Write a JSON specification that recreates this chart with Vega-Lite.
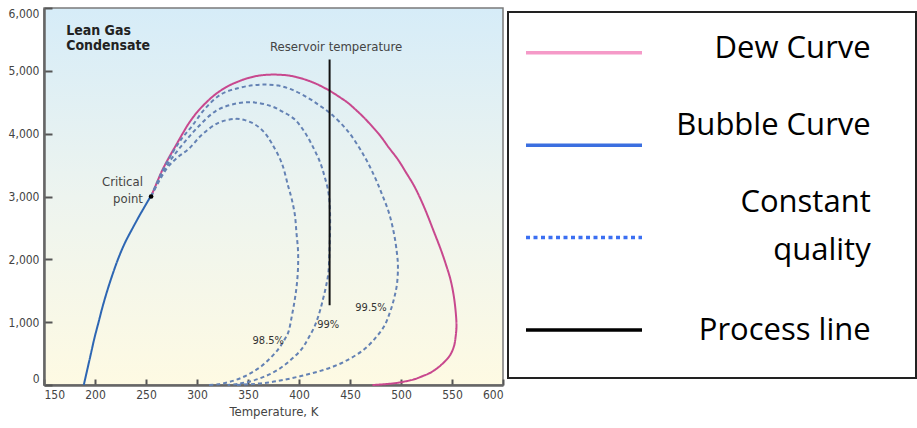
{
  "$schema": "https://vega.github.io/schema/vega-lite/v6.json",
  "width": 459,
  "height": 377,
  "autosize": {"type": "none"},
  "padding": {"left": 44, "top": 8, "right": 414, "bottom": 43},
  "background": "white",
  "view": {
    "fill": {"gradient": "linear", "x1": 0, "y1": 0, "x2": 0, "y2": 1,
      "stops": [{"offset": 0, "color": "#d6ecf8"}, {"offset": 0.5, "color": "#edf4ef"}, {"offset": 1, "color": "#fefae3"}]},
    "stroke": "#7a7a7a",
    "strokeWidth": 1.5
  },
  "config": {
    "font": "DejaVu Sans Condensed, sans-serif"
  },
  "datasets": {
    "curves": [
      {"s":"Dew Curve","q":"dew","i":0,"T":255,"P":3000},
      {"s":"Dew Curve","q":"dew","i":1,"T":260.5,"P":3215},
      {"s":"Dew Curve","q":"dew","i":2,"T":266,"P":3420},
      {"s":"Dew Curve","q":"dew","i":3,"T":272.5,"P":3620},
      {"s":"Dew Curve","q":"dew","i":4,"T":279,"P":3805},
      {"s":"Dew Curve","q":"dew","i":5,"T":285.5,"P":3990},
      {"s":"Dew Curve","q":"dew","i":6,"T":292,"P":4165},
      {"s":"Dew Curve","q":"dew","i":7,"T":300,"P":4340},
      {"s":"Dew Curve","q":"dew","i":8,"T":308,"P":4480},
      {"s":"Dew Curve","q":"dew","i":9,"T":316,"P":4600},
      {"s":"Dew Curve","q":"dew","i":10,"T":324,"P":4695},
      {"s":"Dew Curve","q":"dew","i":11,"T":332,"P":4770},
      {"s":"Dew Curve","q":"dew","i":12,"T":341,"P":4833},
      {"s":"Dew Curve","q":"dew","i":13,"T":349,"P":4880},
      {"s":"Dew Curve","q":"dew","i":14,"T":357,"P":4913},
      {"s":"Dew Curve","q":"dew","i":15,"T":365,"P":4932},
      {"s":"Dew Curve","q":"dew","i":16,"T":373,"P":4940},
      {"s":"Dew Curve","q":"dew","i":17,"T":382,"P":4937},
      {"s":"Dew Curve","q":"dew","i":18,"T":390,"P":4925},
      {"s":"Dew Curve","q":"dew","i":19,"T":399,"P":4895},
      {"s":"Dew Curve","q":"dew","i":20,"T":408,"P":4850},
      {"s":"Dew Curve","q":"dew","i":21,"T":416,"P":4800},
      {"s":"Dew Curve","q":"dew","i":22,"T":423,"P":4745},
      {"s":"Dew Curve","q":"dew","i":23,"T":431,"P":4674},
      {"s":"Dew Curve","q":"dew","i":24,"T":440,"P":4580},
      {"s":"Dew Curve","q":"dew","i":25,"T":448,"P":4490},
      {"s":"Dew Curve","q":"dew","i":26,"T":456,"P":4375},
      {"s":"Dew Curve","q":"dew","i":27,"T":464,"P":4251},
      {"s":"Dew Curve","q":"dew","i":28,"T":472,"P":4110},
      {"s":"Dew Curve","q":"dew","i":29,"T":480,"P":3959},
      {"s":"Dew Curve","q":"dew","i":30,"T":488,"P":3780},
      {"s":"Dew Curve","q":"dew","i":31,"T":497,"P":3588},
      {"s":"Dew Curve","q":"dew","i":32,"T":505,"P":3380},
      {"s":"Dew Curve","q":"dew","i":33,"T":513,"P":3164},
      {"s":"Dew Curve","q":"dew","i":34,"T":520,"P":2930},
      {"s":"Dew Curve","q":"dew","i":35,"T":526,"P":2700},
      {"s":"Dew Curve","q":"dew","i":36,"T":532,"P":2450},
      {"s":"Dew Curve","q":"dew","i":37,"T":539,"P":2157},
      {"s":"Dew Curve","q":"dew","i":38,"T":544,"P":1920},
      {"s":"Dew Curve","q":"dew","i":39,"T":548.5,"P":1680},
      {"s":"Dew Curve","q":"dew","i":40,"T":551.5,"P":1440},
      {"s":"Dew Curve","q":"dew","i":41,"T":553.4,"P":1203},
      {"s":"Dew Curve","q":"dew","i":42,"T":554.4,"P":938},
      {"s":"Dew Curve","q":"dew","i":43,"T":553.5,"P":760},
      {"s":"Dew Curve","q":"dew","i":44,"T":552,"P":620},
      {"s":"Dew Curve","q":"dew","i":45,"T":549,"P":500},
      {"s":"Dew Curve","q":"dew","i":46,"T":545,"P":409},
      {"s":"Dew Curve","q":"dew","i":47,"T":538,"P":300},
      {"s":"Dew Curve","q":"dew","i":48,"T":529,"P":197},
      {"s":"Dew Curve","q":"dew","i":49,"T":521,"P":140},
      {"s":"Dew Curve","q":"dew","i":50,"T":513,"P":91},
      {"s":"Dew Curve","q":"dew","i":51,"T":505,"P":60},
      {"s":"Dew Curve","q":"dew","i":52,"T":498,"P":38},
      {"s":"Dew Curve","q":"dew","i":53,"T":485,"P":14},
      {"s":"Dew Curve","q":"dew","i":54,"T":472,"P":0},
      {"s":"Bubble Curve","q":"bub","i":0,"T":189,"P":0},
      {"s":"Bubble Curve","q":"bub","i":1,"T":192.5,"P":250},
      {"s":"Bubble Curve","q":"bub","i":2,"T":196,"P":500},
      {"s":"Bubble Curve","q":"bub","i":3,"T":199.5,"P":750},
      {"s":"Bubble Curve","q":"bub","i":4,"T":203.5,"P":1000},
      {"s":"Bubble Curve","q":"bub","i":5,"T":207.5,"P":1250},
      {"s":"Bubble Curve","q":"bub","i":6,"T":212,"P":1500},
      {"s":"Bubble Curve","q":"bub","i":7,"T":217,"P":1750},
      {"s":"Bubble Curve","q":"bub","i":8,"T":222.5,"P":2000},
      {"s":"Bubble Curve","q":"bub","i":9,"T":229,"P":2250},
      {"s":"Bubble Curve","q":"bub","i":10,"T":237,"P":2500},
      {"s":"Bubble Curve","q":"bub","i":11,"T":245.5,"P":2750},
      {"s":"Bubble Curve","q":"bub","i":12,"T":254.5,"P":3000},
      {"s":"Constant quality","q":"99.5","i":0,"T":255,"P":3000},
      {"s":"Constant quality","q":"99.5","i":1,"T":265,"P":3370},
      {"s":"Constant quality","q":"99.5","i":2,"T":275,"P":3670},
      {"s":"Constant quality","q":"99.5","i":3,"T":285,"P":3920},
      {"s":"Constant quality","q":"99.5","i":4,"T":295,"P":4118},
      {"s":"Constant quality","q":"99.5","i":5,"T":308,"P":4400},
      {"s":"Constant quality","q":"99.5","i":6,"T":324,"P":4630},
      {"s":"Constant quality","q":"99.5","i":7,"T":341,"P":4728},
      {"s":"Constant quality","q":"99.5","i":8,"T":355,"P":4770},
      {"s":"Constant quality","q":"99.5","i":9,"T":367,"P":4781},
      {"s":"Constant quality","q":"99.5","i":10,"T":380,"P":4765},
      {"s":"Constant quality","q":"99.5","i":11,"T":393,"P":4701},
      {"s":"Constant quality","q":"99.5","i":12,"T":409,"P":4569},
      {"s":"Constant quality","q":"99.5","i":13,"T":420,"P":4450},
      {"s":"Constant quality","q":"99.5","i":14,"T":431,"P":4320},
      {"s":"Constant quality","q":"99.5","i":15,"T":448,"P":4038},
      {"s":"Constant quality","q":"99.5","i":16,"T":464,"P":3641},
      {"s":"Constant quality","q":"99.5","i":17,"T":474,"P":3320},
      {"s":"Constant quality","q":"99.5","i":18,"T":481,"P":3050},
      {"s":"Constant quality","q":"99.5","i":19,"T":488,"P":2750},
      {"s":"Constant quality","q":"99.5","i":20,"T":493,"P":2420},
      {"s":"Constant quality","q":"99.5","i":21,"T":496,"P":2100},
      {"s":"Constant quality","q":"99.5","i":22,"T":497,"P":1890},
      {"s":"Constant quality","q":"99.5","i":23,"T":496,"P":1600},
      {"s":"Constant quality","q":"99.5","i":24,"T":493,"P":1363},
      {"s":"Constant quality","q":"99.5","i":25,"T":489,"P":1150},
      {"s":"Constant quality","q":"99.5","i":26,"T":483.6,"P":938},
      {"s":"Constant quality","q":"99.5","i":27,"T":475,"P":750},
      {"s":"Constant quality","q":"99.5","i":28,"T":464,"P":568},
      {"s":"Constant quality","q":"99.5","i":29,"T":450,"P":420},
      {"s":"Constant quality","q":"99.5","i":30,"T":435,"P":302},
      {"s":"Constant quality","q":"99.5","i":31,"T":418,"P":210},
      {"s":"Constant quality","q":"99.5","i":32,"T":402,"P":143},
      {"s":"Constant quality","q":"99.5","i":33,"T":386,"P":85},
      {"s":"Constant quality","q":"99.5","i":34,"T":370,"P":40},
      {"s":"Constant quality","q":"99.5","i":35,"T":352,"P":12},
      {"s":"Constant quality","q":"99.5","i":36,"T":337,"P":0},
      {"s":"Constant quality","q":"99","i":0,"T":255,"P":3000},
      {"s":"Constant quality","q":"99","i":1,"T":265,"P":3340},
      {"s":"Constant quality","q":"99","i":2,"T":275,"P":3600},
      {"s":"Constant quality","q":"99","i":3,"T":288,"P":3870},
      {"s":"Constant quality","q":"99","i":4,"T":301.7,"P":4118},
      {"s":"Constant quality","q":"99","i":5,"T":318,"P":4356},
      {"s":"Constant quality","q":"99","i":6,"T":334,"P":4463},
      {"s":"Constant quality","q":"99","i":7,"T":353.6,"P":4500},
      {"s":"Constant quality","q":"99","i":8,"T":373,"P":4436},
      {"s":"Constant quality","q":"99","i":9,"T":385,"P":4340},
      {"s":"Constant quality","q":"99","i":10,"T":396,"P":4224},
      {"s":"Constant quality","q":"99","i":11,"T":406,"P":4013},
      {"s":"Constant quality","q":"99","i":12,"T":415,"P":3747},
      {"s":"Constant quality","q":"99","i":13,"T":421,"P":3530},
      {"s":"Constant quality","q":"99","i":14,"T":425,"P":3323},
      {"s":"Constant quality","q":"99","i":15,"T":428.5,"P":3100},
      {"s":"Constant quality","q":"99","i":16,"T":430,"P":2900},
      {"s":"Constant quality","q":"99","i":17,"T":430.5,"P":2650},
      {"s":"Constant quality","q":"99","i":18,"T":430.4,"P":2423},
      {"s":"Constant quality","q":"99","i":19,"T":429.8,"P":2100},
      {"s":"Constant quality","q":"99","i":20,"T":428.8,"P":1787},
      {"s":"Constant quality","q":"99","i":21,"T":426.5,"P":1570},
      {"s":"Constant quality","q":"99","i":22,"T":423.5,"P":1363},
      {"s":"Constant quality","q":"99","i":23,"T":420,"P":1150},
      {"s":"Constant quality","q":"99","i":24,"T":415.4,"P":938},
      {"s":"Constant quality","q":"99","i":25,"T":409,"P":740},
      {"s":"Constant quality","q":"99","i":26,"T":402.4,"P":568},
      {"s":"Constant quality","q":"99","i":27,"T":392,"P":400},
      {"s":"Constant quality","q":"99","i":28,"T":380,"P":250},
      {"s":"Constant quality","q":"99","i":29,"T":367,"P":140},
      {"s":"Constant quality","q":"99","i":30,"T":353.6,"P":64},
      {"s":"Constant quality","q":"99","i":31,"T":341,"P":20},
      {"s":"Constant quality","q":"99","i":32,"T":330,"P":0},
      {"s":"Constant quality","q":"98.5","i":0,"T":255,"P":3000},
      {"s":"Constant quality","q":"98.5","i":1,"T":263,"P":3250},
      {"s":"Constant quality","q":"98.5","i":2,"T":271,"P":3460},
      {"s":"Constant quality","q":"98.5","i":3,"T":280,"P":3610},
      {"s":"Constant quality","q":"98.5","i":4,"T":292,"P":3760},
      {"s":"Constant quality","q":"98.5","i":5,"T":305,"P":3986},
      {"s":"Constant quality","q":"98.5","i":6,"T":321,"P":4172},
      {"s":"Constant quality","q":"98.5","i":7,"T":337.4,"P":4235},
      {"s":"Constant quality","q":"98.5","i":8,"T":347,"P":4215},
      {"s":"Constant quality","q":"98.5","i":9,"T":357,"P":4145},
      {"s":"Constant quality","q":"98.5","i":10,"T":366,"P":4020},
      {"s":"Constant quality","q":"98.5","i":11,"T":373,"P":3854},
      {"s":"Constant quality","q":"98.5","i":12,"T":383,"P":3536},
      {"s":"Constant quality","q":"98.5","i":13,"T":389.4,"P":3164},
      {"s":"Constant quality","q":"98.5","i":14,"T":393,"P":2950},
      {"s":"Constant quality","q":"98.5","i":15,"T":396,"P":2700},
      {"s":"Constant quality","q":"98.5","i":16,"T":397.5,"P":2423},
      {"s":"Constant quality","q":"98.5","i":17,"T":399,"P":2150},
      {"s":"Constant quality","q":"98.5","i":18,"T":399.1,"P":1892},
      {"s":"Constant quality","q":"98.5","i":19,"T":398,"P":1620},
      {"s":"Constant quality","q":"98.5","i":20,"T":395.9,"P":1363},
      {"s":"Constant quality","q":"98.5","i":21,"T":393,"P":1100},
      {"s":"Constant quality","q":"98.5","i":22,"T":389.4,"P":833},
      {"s":"Constant quality","q":"98.5","i":23,"T":385,"P":700},
      {"s":"Constant quality","q":"98.5","i":24,"T":379.6,"P":568},
      {"s":"Constant quality","q":"98.5","i":25,"T":372,"P":430},
      {"s":"Constant quality","q":"98.5","i":26,"T":363.4,"P":302},
      {"s":"Constant quality","q":"98.5","i":27,"T":354,"P":200},
      {"s":"Constant quality","q":"98.5","i":28,"T":344,"P":118},
      {"s":"Constant quality","q":"98.5","i":29,"T":332,"P":50},
      {"s":"Constant quality","q":"98.5","i":30,"T":321,"P":12},
      {"s":"Constant quality","q":"98.5","i":31,"T":310,"P":0},
      {"s":"Process line","q":"proc","i":0,"T":430,"P":1270},
      {"s":"Process line","q":"proc","i":1,"T":430,"P":5180}
    ],
    "notes": [
      {"k":"bold","text":"Lean Gas","T":171.7,"P":5628},
      {"k":"bold","text":"Condensate","T":171.7,"P":5390},
      {"k":"right","text":"Critical","T":247,"P":3225},
      {"k":"right","text":"point","T":247,"P":2955},
      {"k":"title","text":"Reservoir temperature","T":436.3,"P":5374},
      {"k":"pct","text":"98.5%","T":369.9,"P":700},
      {"k":"pct","text":"99%","T":428.6,"P":962},
      {"k":"pct","text":"99.5%","T":470.6,"P":1231}
    ],
    "crit": [{"T":255,"P":3000}],
    "items": [
      {"item":"Dew Curve"},
      {"item":"Bubble Curve"},
      {"item":"Constant quality"},
      {"item":"Process line"}
    ],
    "box": [{"b":"legend"}]
  },
  "layer": [
    {
      "layer": [
        {
          "data": {"name": "curves"},
          "mark": {"type": "line", "strokeCap": "butt", "interpolate": "catmull-rom"},
          "encoding": {
            "x": {"field": "T", "type": "quantitative", "scale": {"domain": [150, 600], "nice": false, "zero": false},
              "axis": {"values": [150,200,250,300,350,400,450,500,550,600], "grid": false, "title": "Temperature, K",
                "labelFlush": true, "tickSize": -6, "tickWidth": 2, "tickColor": "#555555", "labelPadding": 10,
                "domainColor": "#666666", "domainWidth": 2.5, "labelFontSize": 12, "labelColor": "#444444",
                "titleFontSize": 13, "titleFontWeight": "normal", "titleColor": "#444444", "titlePadding": 5}},
            "y": {"field": "P", "type": "quantitative", "scale": {"domain": [0, 6000], "nice": false},
              "axis": {"values": [0,1000,2000,3000,4000,5000,6000], "format": ",.0f", "grid": false, "title": null,
                "labelFlush": true, "tickSize": -8, "tickWidth": 2, "tickColor": "#555555", "labelPadding": 13,
                "domainColor": "#666666", "domainWidth": 2.5, "labelFontSize": 12, "labelColor": "#444444"}},
            "order": {"field": "i", "type": "quantitative"},
            "detail": {"field": "q"},
            "color": {"field": "s", "type": "nominal",
              "scale": {"domain": ["Dew Curve","Bubble Curve","Constant quality","Process line"],
                        "range": ["#c8488e","#2d66b3","#6482b4","#111111"]},
              "legend": null},
            "strokeDash": {"field": "s", "type": "nominal",
              "scale": {"domain": ["Dew Curve","Bubble Curve","Constant quality","Process line"],
                        "range": [[1,0],[1,0],[4,3],[1,0]]}, "legend": null},
            "strokeWidth": {"field": "s", "type": "nominal",
              "scale": {"domain": ["Dew Curve","Bubble Curve","Constant quality","Process line"],
                        "range": [2,2,1.6,3.2]}, "legend": null}
          }
        },
        {
          "data": {"name": "crit"},
          "mark": {"type": "point", "filled": true, "color": "#000000", "size": 22, "opacity": 1},
          "encoding": {
            "x": {"field": "T", "type": "quantitative"},
            "y": {"field": "P", "type": "quantitative"}
          }
        },
        {
          "data": {"name": "notes"},
          "transform": [{"filter": "datum.k == 'bold'"}],
          "mark": {"type": "text", "align": "left", "baseline": "middle", "fontWeight": "bold", "fontSize": 14, "color": "#222222"},
          "encoding": {
            "x": {"field": "T", "type": "quantitative"},
            "y": {"field": "P", "type": "quantitative"},
            "text": {"field": "text"}
          }
        },
        {
          "data": {"name": "notes"},
          "transform": [{"filter": "datum.k == 'right'"}],
          "mark": {"type": "text", "align": "right", "baseline": "middle", "fontSize": 13, "color": "#444444"},
          "encoding": {
            "x": {"field": "T", "type": "quantitative"},
            "y": {"field": "P", "type": "quantitative"},
            "text": {"field": "text"}
          }
        },
        {
          "data": {"name": "notes"},
          "transform": [{"filter": "datum.k == 'title'"}],
          "mark": {"type": "text", "align": "center", "baseline": "middle", "fontSize": 13, "color": "#444444"},
          "encoding": {
            "x": {"field": "T", "type": "quantitative"},
            "y": {"field": "P", "type": "quantitative"},
            "text": {"field": "text"}
          }
        },
        {
          "data": {"name": "notes"},
          "transform": [{"filter": "datum.k == 'pct'"}],
          "mark": {"type": "text", "align": "center", "baseline": "middle", "fontSize": 11, "color": "#333333"},
          "encoding": {
            "x": {"field": "T", "type": "quantitative"},
            "y": {"field": "P", "type": "quantitative"},
            "text": {"field": "text"}
          }
        }
      ]
    },
    {
      "layer": [
        {
          "data": {"name": "box"},
          "mark": {"type": "rect", "fill": "#ffffff", "stroke": "#222222", "strokeWidth": 2},
          "encoding": {
            "x": {"value": 464},
            "x2": {"value": 872},
            "y": {"value": 4},
            "y2": {"value": 370}
          }
        },
        {
          "data": {"name": "items"},
          "mark": {"type": "rule", "strokeWidth": 3.5, "strokeCap": "butt"},
          "encoding": {
            "x": {"value": 482},
            "x2": {"value": 598},
            "y": {"field": "item", "type": "nominal",
              "scale": {"type": "point", "domain": ["Dew Curve","Bubble Curve","Constant quality","Process line"], "range": [44.7, 322], "padding": 0},
              "axis": null},
            "color": {"field": "item", "type": "nominal",
              "scale": {"domain": ["Dew Curve","Bubble Curve","Constant quality","Process line"],
                        "range": ["#f59ac8","#3b6fe0","#3b6ff2","#000000"]},
              "legend": null},
            "strokeDash": {"field": "item", "type": "nominal",
              "scale": {"domain": ["Dew Curve","Bubble Curve","Constant quality","Process line"],
                        "range": [[1,0],[1,0],[4,3.5],[1,0]]},
              "legend": null}
          }
        },
        {
          "data": {"name": "items"},
          "transform": [{"filter": "datum.item == 'Dew Curve'"}],
          "mark": {"type": "text", "align": "right", "baseline": "middle", "font": "Open Sans", "fontSize": 31, "color": "#000000", "dy": -3.9},
          "encoding": {
            "x": {"value": 826.7},
            "y": {"field": "item", "type": "nominal"},
            "text": {"field": "item"}
          }
        },
        {
          "data": {"name": "items"},
          "transform": [{"filter": "datum.item == 'Bubble Curve'"}],
          "mark": {"type": "text", "align": "right", "baseline": "middle", "font": "Open Sans", "fontSize": 31, "color": "#000000", "dy": -18.8},
          "encoding": {
            "x": {"value": 826.7},
            "y": {"field": "item", "type": "nominal"},
            "text": {"field": "item"}
          }
        },
        {
          "data": {"name": "items"},
          "transform": [{"filter": "datum.item == 'Constant quality'"}],
          "mark": {"type": "text", "align": "right", "baseline": "middle", "font": "Open Sans", "fontSize": 31, "color": "#000000", "dy": -34.5, "lineBreak": " ", "lineHeight": 48},
          "encoding": {
            "x": {"value": 826.7},
            "y": {"field": "item", "type": "nominal"},
            "text": {"field": "item"}
          }
        },
        {
          "data": {"name": "items"},
          "transform": [{"filter": "datum.item == 'Process line'"}],
          "mark": {"type": "text", "align": "right", "baseline": "middle", "font": "Open Sans", "fontSize": 31, "color": "#000000", "dy": 1.3},
          "encoding": {
            "x": {"value": 826.7},
            "y": {"field": "item", "type": "nominal"},
            "text": {"field": "item"}
          }
        }
      ]
    }
  ],
  "resolve": {"scale": {"y": "independent", "color": "independent", "strokeDash": "independent"}}
}
